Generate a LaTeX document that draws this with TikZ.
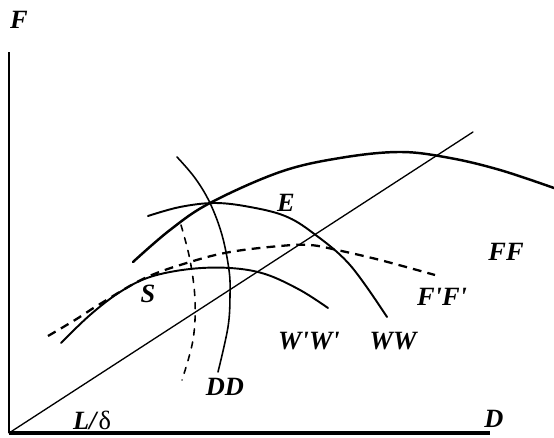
\documentclass[tikz,border=0pt]{standalone}
\usepackage{fontspec}
\setmainfont{Liberation Serif}
\usepackage{tikz}
\usetikzlibrary{calc}

\begin{document}
\begin{tikzpicture}[
  x=0.02cm, y=-0.02cm,
  curve/.style={line width=1.1pt, line cap=round},
  thin/.style={line width=0.75pt, line cap=round},
  dashcurve/.style={line width=1.3pt, dash pattern=on 5pt off 3.5pt},
  lbl/.style={font=\fontsize{15}{17}\selectfont\bfseries\itshape, inner sep=0pt}
]
  \useasboundingbox (0,0) rectangle (554,438);

  % axes
  \coordinate (O) at (9,433);
  \coordinate (ytop) at (9,52);
  \coordinate (xend) at (490,433);
  \draw[line width=1.2pt] (O) -- (ytop);
  \draw[line width=1.8pt] (O) -- (xend);

  % ray L/delta
  \coordinate (rayend) at (473,132);
  \draw[thin] (O) -- (rayend);

  % FF
  \draw[curve, line width=1.4pt] plot[smooth, tension=0.6] coordinates {
    (133,262) (170,230) (210,203) (280,172) (340,158) (400,152) (450,158) (500,170) (554,188)};

  % WW
  \draw[curve] plot[smooth, tension=0.6] coordinates {
    (148,216) (180,207) (215,203) (250,207) (285,216) (313,233) (350,265) (387,317)};

  % W'W'
  \draw[curve] plot[smooth, tension=0.6] coordinates {
    (61,343) (90,315) (120,292) (150,277) (190,269) (230,268) (265,274) (300,290) (328,308)};

  % F'F'
  \draw[dashcurve] plot[smooth, tension=0.6] coordinates {
    (48,336) (75,320) (100,304) (145,278) (190,262) (230,252) (280,246) (310,245) (337,250) (380,260) (435,275)};

  % DD
  \draw[thin, line width=0.9pt] plot[smooth, tension=0.6] coordinates {
    (177,157) (195,178) (210,203) (222,235) (229,270) (230,295) (228,327) (218,372)};

  % D'D'
  \draw[thin, line width=0.9pt, dash pattern=on 3.5pt off 4pt] plot[smooth, tension=0.6] coordinates {
    (181,225) (190,260) (195,300) (193,340) (182,380)};

  % labels
  \node[lbl] (lF) at (19,20) {F};
  \node[lbl] (lD) at (494,419) {D};
  \node[lbl] (ldelta) at (92,420) {L/\textup{\mdseries δ}};
  \node[lbl] (lE) at (286,203) {E};
  \node[lbl] (lS) at (148,294) {S};
  \node[lbl] (lDD) at (225,387) {DD};
  \node[lbl] (lWpWp) at (309,341) {W\textquotesingle W\textquotesingle};
  \node[lbl] (lWW) at (393,341) {WW};
  \node[lbl] (lFpFp) at (442,297) {F\textquotesingle F\textquotesingle};
  \node[lbl] (lFF) at (506,252) {FF};
\end{tikzpicture}
\end{document}
